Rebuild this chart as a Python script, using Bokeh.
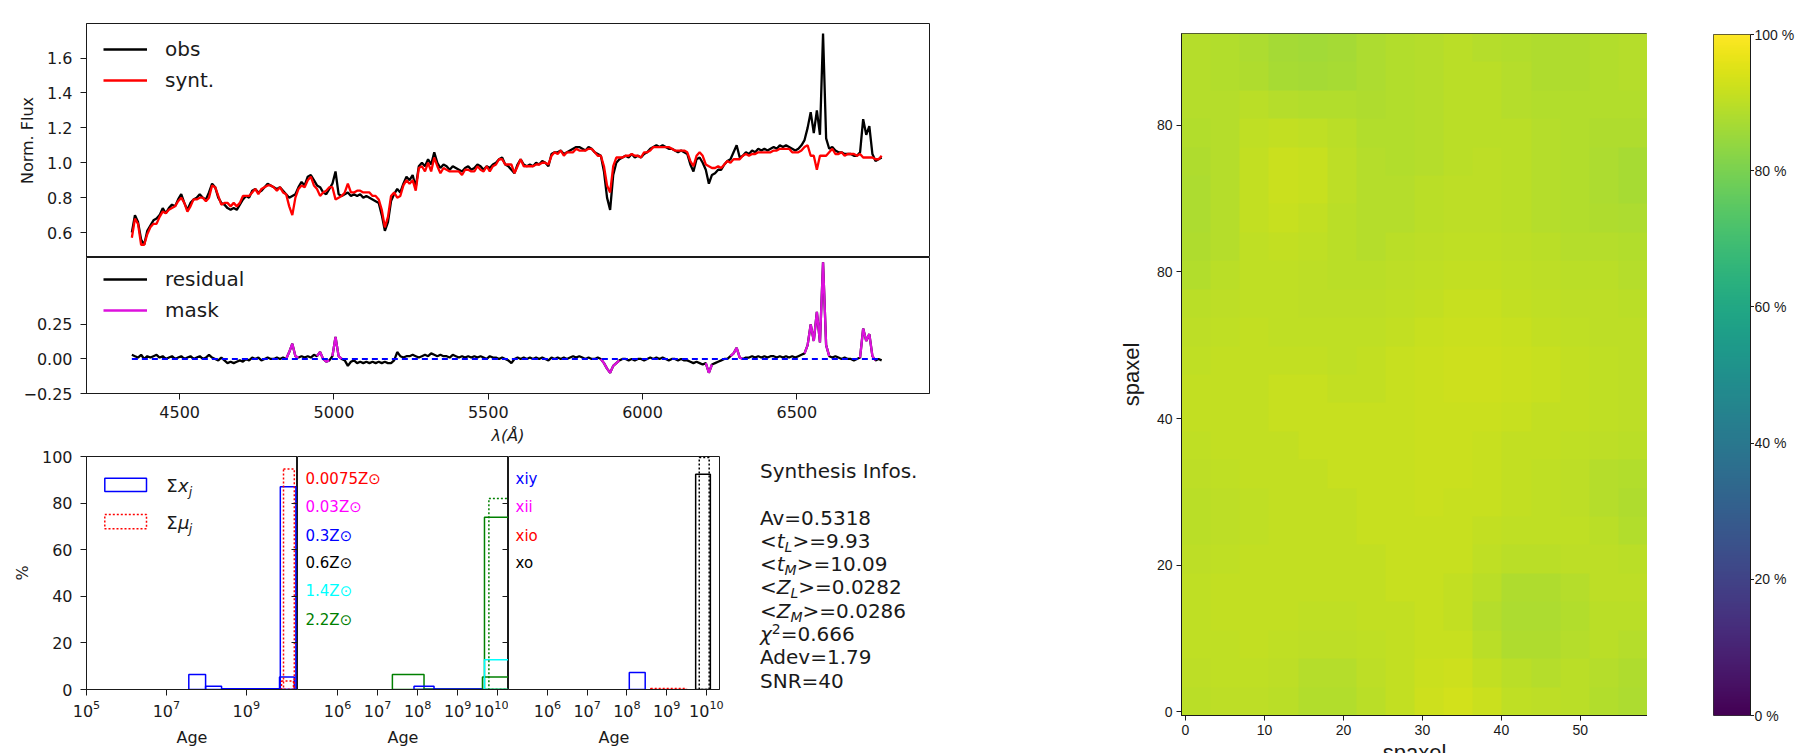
import numpy as np
from bokeh.plotting import figure
from bokeh.models import (Range1d, FixedTicker, LinearAxis, Legend, LegendItem, Label,
                          BoxAnnotation, Div, LinearColorMapper, PrintfTickFormatter)
from bokeh.core.properties import value
from bokeh.layouts import row, column
from bokeh.palettes import Viridis256
from bokeh.embed import file_html
from bokeh.resources import INLINE

# ---------------------------------------------------------------- data
wavelength = list(range(4345, 6776, 10))
obs_flux = [
    0.60, 0.70, 0.66, 0.56, 0.53, 0.61, 0.64, 0.67, 0.68, 0.70,
    0.74, 0.71, 0.74, 0.76, 0.75, 0.79, 0.82, 0.77, 0.73, 0.77,
    0.79, 0.80, 0.82, 0.80, 0.79, 0.83, 0.88, 0.86, 0.80, 0.77,
    0.76, 0.74, 0.73, 0.74, 0.73, 0.76, 0.79, 0.81, 0.80, 0.84,
    0.85, 0.83, 0.84, 0.86, 0.88, 0.87, 0.86, 0.85, 0.86, 0.84,
    0.82, 0.80, 0.81, 0.82, 0.86, 0.89, 0.87, 0.92, 0.93, 0.90,
    0.87, 0.86, 0.83, 0.82, 0.85, 0.88, 0.95, 0.82, 0.81, 0.82,
    0.83, 0.81, 0.82, 0.81, 0.82, 0.80, 0.81, 0.80, 0.79, 0.78,
    0.77, 0.70, 0.61, 0.66, 0.78, 0.82, 0.85, 0.83, 0.88, 0.92,
    0.90, 0.93, 0.86, 0.98, 1.00, 0.98, 1.02, 0.99, 1.06, 1.00,
    0.97, 0.99, 0.98, 0.96, 0.98, 0.97, 0.96, 0.95, 0.97, 0.98,
    0.96, 0.97, 0.99, 0.98, 0.96, 0.98, 0.97, 0.99, 1.00, 1.02,
    1.03, 0.99, 0.98, 0.96, 0.94, 0.99, 1.02, 0.99, 0.98, 0.99,
    0.98, 1.00, 0.99, 1.01, 1.00, 0.98, 1.05, 1.06, 1.06, 1.07,
    1.05, 1.06, 1.07, 1.08, 1.09, 1.09, 1.08, 1.07, 1.09, 1.08,
    1.06, 1.05, 1.04, 0.95, 0.80, 0.73, 0.93, 1.00, 1.02, 1.03,
    1.04, 1.03, 1.05, 1.03, 1.04, 1.03, 1.05, 1.06, 1.08, 1.09,
    1.10, 1.09, 1.10, 1.09, 1.08, 1.08, 1.07, 1.06, 1.07, 1.06,
    1.05, 0.99, 0.95, 1.02, 1.03, 1.00, 0.96, 0.88, 0.93, 0.94,
    0.96, 0.96, 0.99, 1.01, 1.02, 1.06, 1.10, 1.03, 1.04, 1.06,
    1.05, 1.07, 1.06, 1.08, 1.07, 1.08, 1.07, 1.08, 1.09, 1.08,
    1.10, 1.09, 1.10, 1.09, 1.08, 1.07, 1.08, 1.10, 1.13, 1.20,
    1.29, 1.17, 1.30, 1.16, 1.74, 1.14, 1.08, 1.09, 1.07, 1.06,
    1.06, 1.05, 1.05, 1.05, 1.04, 1.04, 1.06, 1.25, 1.16, 1.21,
    1.05, 1.01, 1.02, 1.03,
]
residual = [
    0.03, 0.02, 0.01, 0.03, 0.00, 0.02, 0.01, 0.02, 0.03, 0.01,
    0.02, 0.00, 0.01, 0.02, 0.00, 0.01, 0.02, 0.00, 0.01, 0.02,
    0.00, 0.01, 0.02, 0.00, 0.01, 0.03, 0.01, 0.00, -0.01, 0.01,
    -0.01, -0.03, -0.02, -0.03, -0.02, -0.01, -0.02, 0.00, -0.01, 0.01,
    0.00, 0.01, -0.01, 0.00, 0.01, 0.00, 0.00, 0.01, 0.00, 0.01,
    0.00, 0.05, 0.11, 0.02, 0.01, 0.02, 0.01, 0.02, 0.01, 0.03,
    0.02, 0.05, 0.00, -0.02, -0.01, 0.02, 0.16, 0.02, 0.00, -0.01,
    -0.05, -0.02, -0.01, -0.03, -0.02, -0.03, -0.02, -0.03, -0.02, -0.03,
    -0.02, -0.03, -0.02, -0.03, -0.03, -0.01, 0.05, 0.02, 0.01, 0.02,
    0.02, 0.03, 0.02, 0.01, 0.02, 0.03, 0.02, 0.04, 0.03, 0.02,
    0.03, 0.02, 0.02, 0.01, 0.03, 0.02, 0.01, 0.02, 0.01, 0.02,
    0.01, 0.02, 0.01, 0.02, 0.01, 0.00, 0.02, 0.01, 0.01, 0.00,
    0.01, 0.00, -0.01, -0.03, 0.00, 0.01, 0.00, 0.01, 0.00, 0.01,
    0.00, 0.01, 0.00, 0.01, 0.00, -0.01, 0.01, 0.00, 0.01, 0.00,
    0.01, 0.00, 0.01, 0.02, 0.01, 0.02, 0.01, 0.00, 0.01, 0.00,
    0.00, 0.01, 0.00, -0.03, -0.07, -0.10, -0.05, -0.03, -0.01, 0.00,
    0.00, -0.01, 0.00, -0.01, 0.00, 0.00, -0.01, 0.00, 0.01, 0.00,
    0.01, 0.00, 0.01, 0.00, -0.01, 0.00, 0.00, -0.01, 0.00, -0.01,
    -0.01, -0.02, -0.03, -0.02, -0.03, -0.04, -0.03, -0.10, -0.04, -0.03,
    -0.02, -0.01, 0.00, 0.00, 0.02, 0.04, 0.08, 0.01, 0.00, 0.01,
    0.01, 0.02, 0.01, 0.02, 0.01, 0.02, 0.01, 0.02, 0.02, 0.01,
    0.02, 0.01, 0.02, 0.01, 0.02, 0.01, 0.02, 0.03, 0.04, 0.10,
    0.25, 0.13, 0.34, 0.12, 0.70, 0.10, 0.02, 0.01, 0.02, 0.01,
    0.00, 0.01, 0.00, 0.00, -0.01, 0.00, 0.01, 0.22, 0.13, 0.18,
    0.02, -0.01, 0.00, -0.01,
]
assert len(wavelength) == len(obs_flux) == len(residual)
synt_flux = [round(o - r, 3) for o, r in zip(obs_flux, residual)]

mask_lo = [4845, 4945, 4995, 5865, 6205, 6285, 6525, 6700]
mask_hi = [4885, 4985, 5025, 5925, 6225, 6325, 6605, 6755]

spec_yticks = [0.6, 0.8, 1.0, 1.2, 1.4, 1.6]
res_yticks = [-0.25, 0.0, 0.25]
wl_ticks = [4500, 5000, 5500, 6000, 6500]

# population histograms (log10 age edges, percent)
sumx_lo = [7.56, 7.98, 8.38, 9.83, 9.85]
sumx_hi = [7.98, 8.38, 9.83, 10.20, 10.24]
sumx_h = [6.4, 1.4, 0.3, 5.4, 87.0]
summu_lo = [9.88, 9.93]
summu_hi = [10.18, 10.20]
summu_h = [3.7, 94.6]

z_labels = ["0.0075", "0.03", "0.3", "0.6", "1.4", "2.2"]
z_colors = ["red", "magenta", "blue", "black", "cyan", "green"]
zbar_color = ["green", "green", "green", "green", "blue", "blue", "cyan"]
zbar_lo = [7.37, 8.16, 9.62, 9.67, 7.91, 8.41, 9.67]
zbar_hi = [8.16, 9.62, 10.40, 10.40, 8.41, 9.60, 10.40]
zbar_h = [6.4, 0.2, 5.4, 73.9, 1.4, 0.2, 12.8]
zmu_color = ["green"]
zmu_lo = [9.78]
zmu_hi = [10.40]
zmu_h = [82.0]

grp_labels = ["xiy", "xii", "xio", "xo"]
grp_colors = ["blue", "magenta", "red", "black"]
gbar_color = ["blue", "black"]
gbar_lo = [8.06, 9.73]
gbar_hi = [8.46, 10.10]
gbar_h = [7.3, 92.4]
gmu_color = ["red", "black"]
gmu_lo = [8.60, 9.82]
gmu_hi = [9.50, 10.07]
gmu_h = [0.4, 99.6]

info_title = "Synthesis Infos."
info_names = ["Av", "&lt;<i>t</i>{L}&gt;", "&lt;<i>t</i>{M}&gt;", "&lt;<i>Z</i>{L}&gt;",
              "&lt;<i>Z</i>{M}&gt;",
              "<i>&chi;</i><sup style='font-size:70%;line-height:0;vertical-align:0.5em'>2</sup>",
              "Adev", "SNR"]
info_values = ["0.5318", "9.93", "10.09", "0.0282", "0.0286", "0.666", "1.79", "40"]

# light-fraction map (%), read on a 16 x 24 grid, rows listed from the bottom
map_grid = [
    [89.5, 90.0, 90.0, 89.5, 88.5, 88.5, 89.5, 91.0, 92.5, 93.0, 92.0, 90.5, 90.0, 89.5, 88.5, 87.5],
    [90.0, 90.5, 90.5, 90.0, 89.0, 89.0, 90.0, 91.0, 92.0, 92.5, 91.0, 89.5, 89.0, 89.5, 89.0, 88.0],
    [90.5, 90.5, 91.0, 90.5, 90.0, 90.0, 90.5, 91.0, 91.5, 91.5, 89.5, 88.0, 88.0, 89.0, 89.5, 89.0],
    [90.5, 91.0, 91.0, 91.0, 90.5, 90.5, 91.0, 91.0, 91.5, 91.0, 89.0, 87.5, 87.5, 88.5, 89.5, 89.5],
    [90.5, 91.0, 91.0, 91.0, 91.0, 91.0, 91.0, 91.5, 91.5, 91.0, 89.5, 88.0, 88.0, 89.0, 90.0, 90.0],
    [90.0, 90.5, 91.0, 91.0, 91.0, 91.0, 91.0, 91.5, 91.5, 91.5, 90.5, 89.5, 89.5, 90.0, 90.0, 89.5],
    [89.5, 90.0, 90.5, 91.0, 91.0, 91.0, 91.5, 91.5, 91.5, 91.5, 91.0, 90.5, 90.5, 90.5, 89.5, 88.5],
    [89.5, 90.0, 90.5, 91.0, 91.0, 91.0, 91.5, 91.5, 92.0, 91.5, 91.5, 91.0, 90.5, 90.0, 89.0, 88.0],
    [90.0, 90.5, 91.0, 91.0, 91.0, 91.5, 91.5, 91.5, 92.0, 92.0, 91.5, 91.0, 90.5, 90.0, 89.0, 88.5],
    [90.5, 91.0, 91.0, 91.0, 91.5, 91.5, 91.5, 91.5, 92.0, 92.0, 91.5, 91.0, 91.0, 90.5, 90.0, 89.5],
    [91.0, 91.0, 91.0, 91.5, 91.5, 91.5, 91.5, 91.5, 92.0, 92.0, 92.0, 91.5, 91.0, 91.0, 90.5, 90.0],
    [91.0, 91.0, 91.0, 91.5, 91.5, 91.0, 91.0, 91.5, 92.0, 92.5, 92.5, 92.0, 91.5, 91.0, 90.5, 90.0],
    [90.5, 91.0, 91.0, 91.0, 91.0, 90.5, 91.0, 91.5, 92.0, 92.5, 92.5, 92.0, 91.5, 91.0, 90.5, 90.0],
    [90.0, 90.5, 91.0, 90.5, 90.5, 90.5, 90.5, 91.0, 91.5, 92.0, 92.0, 91.5, 91.0, 90.5, 90.0, 90.0],
    [89.5, 90.0, 90.5, 90.5, 90.0, 90.0, 90.0, 90.5, 91.0, 91.5, 91.5, 91.0, 90.5, 90.0, 90.0, 89.5],
    [88.5, 89.5, 90.5, 90.5, 90.0, 89.5, 89.5, 90.0, 90.5, 91.0, 91.0, 90.5, 90.0, 89.5, 89.5, 89.0],
    [88.0, 89.0, 90.5, 91.0, 90.5, 89.5, 89.0, 89.5, 90.0, 90.5, 90.5, 90.0, 89.5, 89.0, 89.0, 88.5],
    [87.5, 89.0, 91.0, 91.5, 91.0, 89.5, 89.0, 89.0, 89.5, 90.0, 90.0, 89.5, 89.0, 88.5, 88.0, 87.5],
    [87.5, 89.0, 91.0, 92.0, 91.5, 90.0, 89.0, 89.0, 89.5, 90.0, 90.0, 89.5, 89.0, 88.5, 87.5, 87.0],
    [88.0, 89.0, 91.0, 92.0, 91.5, 90.0, 89.0, 88.5, 89.0, 89.5, 90.0, 89.5, 89.0, 88.5, 87.5, 87.0],
    [88.5, 89.0, 90.5, 91.0, 90.5, 89.5, 88.5, 88.5, 89.0, 89.5, 89.5, 89.5, 89.0, 88.5, 88.0, 88.0],
    [89.0, 89.0, 89.5, 89.0, 88.5, 88.5, 88.0, 88.5, 89.0, 89.5, 89.5, 89.0, 88.5, 88.5, 88.5, 88.5],
    [89.0, 88.5, 88.0, 87.0, 86.5, 87.0, 87.5, 88.5, 89.0, 89.5, 89.5, 89.0, 88.0, 88.0, 88.5, 89.0],
    [89.0, 88.5, 87.5, 86.5, 86.0, 86.5, 87.5, 88.5, 89.0, 89.5, 89.0, 88.5, 88.0, 88.0, 88.5, 89.0],
]
map_nx, map_ny = 59, 93
map_xticks = [0, 10, 20, 30, 40, 50]
map_yticks = [0, 20, 40, 60, 80]
map_ylabel_over = {60: "80"}
cbar_ticks = [0, 20, 40, 60, 80, 100]
cbar_labels = ["0 %", "20 %", "40 %", "60 %", "80 %", "100 %"]

# ---------------------------------------------------------------- style
FONT = "DejaVu Sans"
AFONT = "Liberation Sans"
INK = "#1a1a1a"


def style_axis(ax, font=FONT, size="16px", tick_out=6, standoff=8):
    ax.major_label_text_font = font
    ax.major_label_text_font_size = size
    ax.major_label_text_color = INK
    ax.axis_label_text_font = font
    ax.axis_label_text_font_size = size
    ax.axis_label_text_font_style = "normal"
    ax.axis_label_text_color = INK
    ax.major_tick_out = tick_out
    ax.major_tick_in = 0
    ax.major_tick_line_color = INK
    ax.minor_tick_line_color = None
    ax.axis_line_color = INK
    ax.major_label_standoff = standoff


def ticks_only(ax, tick_in=0, tick_out=0):
    ax.major_tick_in = tick_in
    ax.major_tick_out = tick_out
    ax.major_tick_line_color = INK
    ax.minor_tick_line_color = None
    ax.axis_line_color = INK
    ax.major_label_text_font_size = "0px"
    ax.major_label_text_color = None
    ax.major_label_text_alpha = 0
    ax.major_label_standoff = 0


def base_fig(**kw):
    p = figure(output_backend="svg", toolbar_location=None, **kw)
    p.grid.visible = False
    p.outline_line_color = INK
    p.outline_line_width = 1
    p.background_fill_color = "white"
    p.border_fill_color = "white"
    return p


# ---------------------------------------------------------------- spectrum
spec = base_fig(width=968, height=257, x_range=Range1d(4198, 6930), y_range=Range1d(0.457, 1.798),
                x_axis_location=None, min_border_left=86, min_border_right=39,
                min_border_top=23, min_border_bottom=0)
style_axis(spec.yaxis[0])
spec.yaxis.ticker = FixedTicker(ticks=spec_yticks)
spec.yaxis.formatter = PrintfTickFormatter(format="%.1f")
spec.yaxis.axis_label = "Norm. Flux"
spec.yaxis.axis_label_standoff = 7
r_obs = spec.line(wavelength, obs_flux, line_color="black", line_width=2.3)
r_syn = spec.line(wavelength, synt_flux, line_color="red", line_width=2.3)


def make_legend(items, vy):
    return Legend(items=items, location=(17, vy), orientation="vertical", glyph_width=44,
                  glyph_height=28, label_height=28, spacing=3, padding=0, margin=0,
                  label_standoff=18, border_line_color=None, background_fill_alpha=0,
                  label_text_font=FONT, label_text_font_size="20px", label_text_color=INK)


spec.add_layout(make_legend([LegendItem(label="obs", renderers=[r_obs]),
                             LegendItem(label="synt.", renderers=[r_syn])], 162.7))

# ---------------------------------------------------------------- residual
resid = base_fig(width=968, height=190, x_range=spec.x_range, y_range=Range1d(-0.25, 0.734),
                 min_border_left=86, min_border_right=39, min_border_top=0, min_border_bottom=50)
style_axis(resid.yaxis[0])
style_axis(resid.xaxis[0], standoff=6)
resid.yaxis.ticker = FixedTicker(ticks=res_yticks)
resid.yaxis.formatter = PrintfTickFormatter(format="%.2f")
resid.yaxis.major_label_overrides = {-0.25: "\u22120.25"}
resid.xaxis.ticker = FixedTicker(ticks=wl_ticks)
resid.xaxis.axis_label = "\u03bb(\u00c5)"
resid.xaxis.axis_label_text_font_style = "italic"
resid.xaxis.axis_label_standoff = 5
r_res = resid.line(wavelength, residual, line_color="black", line_width=2.3)
mxs, mys = [], []
for lo, hi in zip(mask_lo, mask_hi):
    idx = [i for i, w in enumerate(wavelength) if lo <= w <= hi]
    mxs.append([wavelength[i] for i in idx])
    mys.append([residual[i] for i in idx])
r_mask = resid.multi_line(mxs, mys, line_color="#dd11dd", line_width=2.3)
resid.segment(x0=[wavelength[0]], y0=[0], x1=[wavelength[-1]], y1=[0], line_color="blue",
              line_width=2, line_dash="6 4")
resid.add_layout(make_legend([LegendItem(label="residual", renderers=[r_res]),
                              LegendItem(label="mask", renderers=[r_mask])], 69.3))

# ---------------------------------------------------------------- histograms
hist_ticks_1 = [1e5, 1e7, 1e9]
hist_ticks_2 = [1e6, 1e7, 1e8, 1e9, 1e10]
HIST_H = 303


def hist_fig(width, xr, lb, rb, left_axis, ticks):
    p = base_fig(width=width, height=HIST_H, x_axis_type="log",
                 x_range=Range1d(10 ** xr[0], 10 ** xr[1]), y_range=Range1d(0, 100),
                 y_axis_location="left" if left_axis else None,
                 min_border_left=lb, min_border_right=rb, min_border_top=9, min_border_bottom=61)
    style_axis(p.xaxis[0], standoff=4)
    p.xaxis.ticker = FixedTicker(ticks=ticks)
    p.xaxis.axis_label = "Age"
    p.xaxis.axis_label_standoff = 8
    if left_axis:
        style_axis(p.yaxis[0])
        p.yaxis.ticker = FixedTicker(ticks=[0, 20, 40, 60, 80, 100])
        p.yaxis.axis_label = "%"
        p.yaxis.axis_label_standoff = 7
    return p


def inner_right_ticks(p):
    ax = LinearAxis(ticker=FixedTicker(ticks=[0, 20, 40, 60, 80, 100]))
    ticks_only(ax, tick_in=6)
    p.add_layout(ax, "right")


def bars(p, lo, hi, h, color, dash="solid"):
    p.quad(left=[10 ** a for a in lo], right=[10 ** b for b in hi], bottom=0, top=h,
           fill_alpha=0, line_color=color, line_width=1.5, line_dash=dash)


def box(p, l, r, b, t, color, dash="solid"):
    p.add_layout(BoxAnnotation(left=l, right=r, bottom=b, top=t, left_units="screen",
                               right_units="screen", bottom_units="screen", top_units="screen",
                               fill_alpha=0, line_color=color, line_alpha=1.0, line_width=1.5,
                               line_dash=dash))


h1 = hist_fig(297, (5.0, 10.28), 86, 0, True, hist_ticks_1)
bars(h1, sumx_lo, sumx_hi, sumx_h, "blue")
bars(h1, summu_lo, summu_hi, summu_h, "red", "2 2")
inner_right_ticks(h1)
box(h1, 18.3, 60, 198, 211.3, "blue")
box(h1, 18.3, 60, 160.7, 175, "red", "2 2")
for yy, sym in ((204.5, "x"), (167.5, "\u03bc")):
    h1.add_layout(Label(x=79.7, y=yy, x_units="screen", y_units="screen", text="\u03a3",
                        text_font=FONT, text_font_size="18px", text_baseline="middle", text_color=INK))
    h1.add_layout(Label(x=91.4, y=yy, x_units="screen", y_units="screen", text=sym,
                        text_font=FONT, text_font_size="18px", text_font_style="italic",
                        text_baseline="middle", text_color=INK))
    h1.add_layout(Label(x=102.3, y=yy - 6, x_units="screen", y_units="screen", text="j",
                        text_font=FONT, text_font_size="12.5px", text_font_style="italic",
                        text_baseline="middle", text_color=INK))

h2 = hist_fig(211, (5.0, 10.27), 0, 0, False, hist_ticks_2)
for c in ["green", "blue", "cyan"]:
    idx = [i for i, cc in enumerate(zbar_color) if cc == c]
    bars(h2, [zbar_lo[i] for i in idx], [zbar_hi[i] for i in idx], [zbar_h[i] for i in idx], c)
bars(h2, zmu_lo, zmu_hi, zmu_h, zmu_color[0], "2 2")
inner_right_ticks(h2)
label_y = [210.7, 182.3, 154.0, 126.3, 98.3, 70.0]
for t, c, yy in zip(z_labels, z_colors, label_y):
    h2.add_layout(Label(x=8, y=yy, x_units="screen", y_units="screen", text=t + "Z\u2299",
                        text_font=FONT, text_font_size="15px", text_baseline="middle", text_color=c))

h3 = hist_fig(252, (5.02, 10.33), 0, 41, False, hist_ticks_2)
for c, lo, hi, hh in zip(gbar_color, gbar_lo, gbar_hi, gbar_h):
    bars(h3, [lo], [hi], [hh], c)
for c, lo, hi, hh in zip(gmu_color, gmu_lo, gmu_hi, gmu_h):
    bars(h3, [lo], [hi], [hh], c, "2 2")
for t, c, yy in zip(grp_labels, grp_colors, label_y):
    h3.add_layout(Label(x=7, y=yy, x_units="screen", y_units="screen", text=t,
                        text_font=FONT, text_font_size="15px", text_baseline="middle", text_color=c))

SUB = "<sub style='font-size:70%;line-height:0;vertical-align:-0.3em'><i>{}</i></sub>"
lines = [info_title, ""]
for n, v in zip(info_names, info_values):
    n = n.replace("{L}", SUB.format("L")).replace("{M}", SUB.format("M"))
    lines.append(n + "=" + v)
info_html = ("<div style=\"padding-top:13px;font-family:'DejaVu Sans';font-size:20px;"
             "line-height:23.3px;color:#1a1a1a;white-space:nowrap\">" + "<br>".join(lines) + "</div>")
info = Div(text=info_html, width=208, height=HIST_H, margin=(0, 0, 0, 0))

# ---------------------------------------------------------------- map + colour bar
cmap = LinearColorMapper(palette=Viridis256, low=0, high=100)
mp = base_fig(width=679, height=775, x_range=Range1d(-0.5, map_nx - 0.5),
              y_range=Range1d(-0.5, map_ny - 0.5), min_border_left=213, min_border_right=0,
              min_border_top=33, min_border_bottom=60)
mp.image(image=[np.array(map_grid, dtype=float)], x=-0.5, y=-0.5, dw=map_nx, dh=map_ny,
         color_mapper=cmap)
style_axis(mp.xaxis[0], font=AFONT, size="14px", tick_out=5, standoff=4)
style_axis(mp.yaxis[0], font=AFONT, size="14px", tick_out=5, standoff=4)
mp.xaxis.ticker = FixedTicker(ticks=map_xticks)
mp.xaxis.axis_label = "spaxel"
mp.xaxis.axis_label_text_font_size = "22px"
mp.xaxis.axis_label_standoff = 2
mp.yaxis.ticker = FixedTicker(ticks=map_yticks)
mp.yaxis.major_label_overrides = map_ylabel_over
mp.yaxis.axis_label = "spaxel"
mp.yaxis.axis_label_text_font_size = "22px"
mp.yaxis.axis_label_standoff = 10
mp.outline_line_color = "#333333"

# colour bar: gradient + outward ticks
cb = base_fig(width=107, height=750, x_range=Range1d(0, 1), y_range=Range1d(0, 100),
              x_axis_location=None, y_axis_location="right", min_border_left=66,
              min_border_right=4, min_border_top=34, min_border_bottom=35)
cb.image(image=[np.linspace(0, 100, 256).reshape(256, 1)], x=0, y=0, dw=1, dh=100, color_mapper=cmap)
cb.yaxis.ticker = FixedTicker(ticks=cbar_ticks)
ticks_only(cb.yaxis[0], tick_out=4)
cb.outline_line_color = "#333333"

# colour-bar tick labels, on the same 0-100 scale (frame 10 px taller on each side)
ext = 10 / 6.81
cbl = base_fig(width=44, height=750, x_range=Range1d(0, 1), y_range=Range1d(-ext, 100 + ext),
               x_axis_location=None, y_axis_location=None, min_border_left=0, min_border_right=0,
               min_border_top=24, min_border_bottom=25)
cbl.outline_line_color = None
cbl.text(x=[0] * len(cbar_ticks), y=cbar_ticks, text=cbar_labels, text_font=value(AFONT),
         text_font_size=value("14px"), text_baseline="middle", text_align="left", text_color=INK)

layout = row(column(spec, resid, row(h1, h2, h3, info)), column(mp), column(cb), column(cbl))
open("out.html", "w").write(file_html(layout, INLINE))
